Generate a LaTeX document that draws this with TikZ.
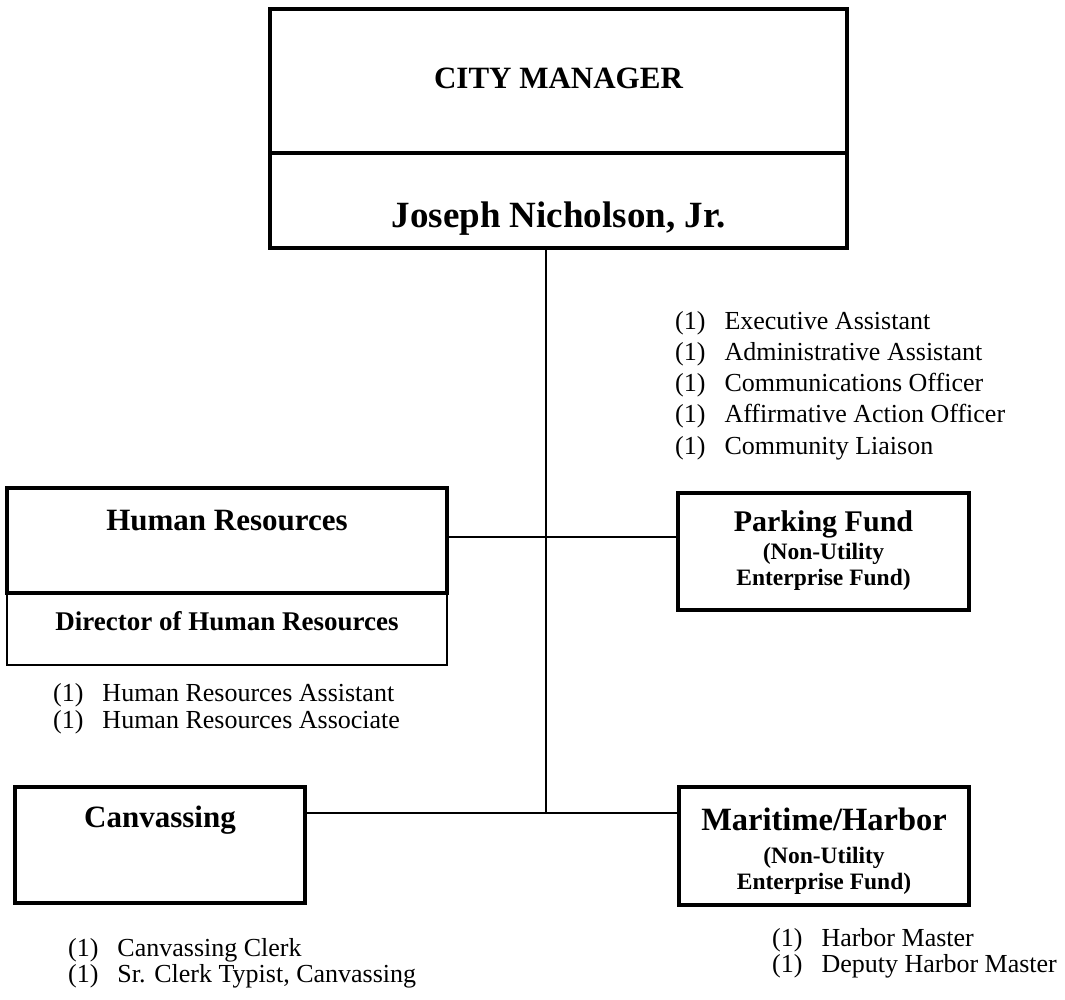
\documentclass[tikz,border=0pt]{standalone}
\usepackage{fontspec}
\setmainfont{Liberation Serif}
\begin{document}
\begin{tikzpicture}[x=1pt,y=-1pt,
  thickbox/.style={draw, line width=3.3pt, inner sep=0pt, outer sep=0pt},
  thinbox/.style={draw, line width=1.6pt, inner sep=0pt, outer sep=0pt},
  link/.style={line width=1.7pt},
  ttl/.style={font=\bfseries\fontsize{#1}{#1}\selectfont, anchor=base, inner sep=0pt},
  lst/.style={font=\fontsize{26}{#1}\selectfont, anchor=base west, inner sep=0pt}]
\fill[white] (0,0) rectangle (1065,1000);
\useasboundingbox (0,0) rectangle (1065,1000);
% boxes
\node[thickbox, minimum width=577pt, minimum height=144pt] (cmtop) at (558.5,81) {};
\node[thickbox, minimum width=577pt, minimum height=95pt] (cmbot) at (558.5,200.5) {};
\node[thinbox, minimum width=440pt, minimum height=72pt] (hrbot) at (227,629) {};
\node[thickbox, minimum width=440pt, minimum height=105pt] (hrtop) at (227,540.5) {};
\node[thickbox, minimum width=291pt, minimum height=117pt] (pk) at (823.5,551.5) {};
\node[thickbox, minimum width=290pt, minimum height=118pt] (mh) at (824,846) {};
\node[thickbox, minimum width=290pt, minimum height=116pt] (cv) at (160,845) {};
% connectors
\coordinate (j1) at (546,537);
\coordinate (j2) at (546,813);
\draw[link] (cmbot.south -| j1) -- (j2);
\draw[link] (hrtop.east |- j1) -- (pk.west |- j1);
\draw[link] (cv.east |- j2) -- (mh.west |- j2);
% titles
\node[ttl=31] (tcm) at (558.5,89) {CITY MANAGER};
\node[ttl=37] (tjn) at (558.5,228) {Joseph Nicholson, Jr.};
\node[ttl=31] (thr) at (227,530) {Human Resources};
\node[ttl=27] (tdir) at (227,630) {Director of Human Resources};
\node[ttl=30] (tpk) at (823.5,531) {Parking Fund};
\node[ttl=23.5] (tpk2) at (823.5,559) {(Non-Utility};
\node[ttl=23.5] (tpk3) at (823.5,585) {Enterprise Fund)};
\node[ttl=32.5] (tmh) at (824,830) {Maritime/Harbor};
\node[ttl=23.5] (tmh2) at (824,863) {(Non-Utility};
\node[ttl=23.5] (tmh3) at (824,889) {Enterprise Fund)};
\node[ttl=31] (tcv) at (160,827) {Canvassing};
% lists
\node[lst=31.25] (lmain) at (675,329) {\begin{tabular}[t]{@{}l@{\hspace{19pt}}l@{}}
(1)&Executive Assistant\\
(1)&Administrative Assistant\\
(1)&Communications Officer\\
(1)&Affirmative Action Officer\\
(1)&Community Liaison
\end{tabular}};
\node[lst=27] (lhr) at (53,701) {\begin{tabular}[t]{@{}l@{\hspace{19pt}}l@{}}
(1)&Human Resources Assistant\\
(1)&Human Resources Associate
\end{tabular}};
\node[lst=26] (lcv) at (68,956) {\begin{tabular}[t]{@{}l@{\hspace{19pt}}l@{}}
(1)&Canvassing Clerk\\
(1)&Sr. Clerk Typist, Canvassing
\end{tabular}};
\node[lst=26] (lmh) at (772,946) {\begin{tabular}[t]{@{}l@{\hspace{19pt}}l@{}}
(1)&Harbor Master\\
(1)&Deputy Harbor Master
\end{tabular}};
\end{tikzpicture}
\end{document}
